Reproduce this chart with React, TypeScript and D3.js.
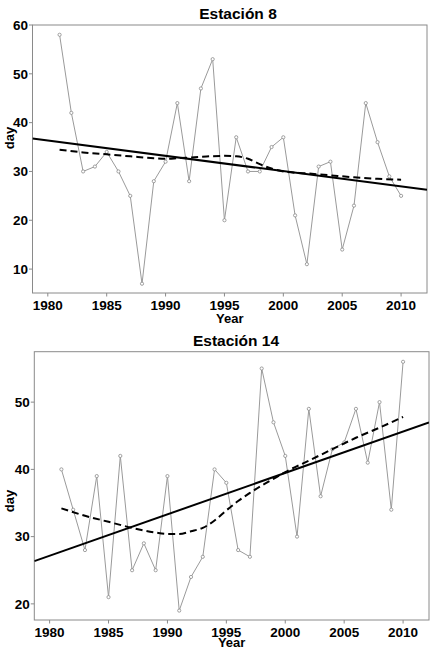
import React from "react";
import * as d3 from "d3";

const years: number[] = d3.range(1981, 2011);

const station8Days: number[] = [
  58, 42, 30, 31, 34, 30, 25, 7, 28, 32, 44, 28, 47, 53, 20,
  37, 30, 30, 35, 37, 21, 11, 31, 32, 14, 23, 44, 36, 29, 25,
];

const station14Days: number[] = [
  40, 34, 28, 39, 21, 42, 25, 29, 25, 39, 19, 24, 27, 40, 38,
  28, 27, 55, 47, 42, 30, 49, 36, 43, 44, 49, 41, 50, 34, 56,
];

const smooth8Years: number[] = [1981, 1983, 1985, 1987, 1989, 1990, 1991, 1993, 1995, 1996, 1997, 1998, 1999, 2000, 2002, 2004, 2006, 2008, 2010];
const smooth8Values: number[] = [34.45, 33.9, 33.5, 33.1, 32.7, 32.6, 32.7, 33.0, 33.2, 33.1, 32.6, 31.5, 30.6, 30.0, 29.6, 29.2, 28.8, 28.5, 28.3];

const smooth14Years: number[] = [1981, 1983, 1985, 1987, 1989, 1990, 1991, 1992, 1993, 1994, 1995, 1996, 1997, 1998, 1999, 2000, 2002, 2004, 2006, 2008, 2010];
const smooth14Values: number[] = [34.2, 33.1, 32.2, 31.3, 30.6, 30.4, 30.4, 30.8, 31.3, 32.4, 33.9, 35.3, 36.5, 37.6, 38.6, 39.6, 41.3, 43.0, 44.7, 46.2, 47.8];

const xTicks: number[] = [1980, 1985, 1990, 1995, 2000, 2005, 2010];
const yTicks8: number[] = [10, 20, 30, 40, 50, 60];
const yTicks14: number[] = [20, 30, 40, 50];

const titles: string[] = ["Estación 8", "Estación 14"];
const xLabel = "Year";
const yLabel = "day";

const FONT = "'Liberation Sans', Arial, sans-serif";

function ols(xs: number[], ys: number[]) {
  const mx = d3.mean(xs)!;
  const my = d3.mean(ys)!;
  let sxy = 0, sxx = 0;
  xs.forEach((x, i) => { sxy += (x - mx) * (ys[i] - my); sxx += (x - mx) * (x - mx); });
  const b = sxy / sxx;
  return (x: number) => my + b * (x - mx);
}

type PanelProps = {
  title: string;
  values: number[];
  sYears: number[];
  sValues: number[];
  yTicks: number[];
  yDomain: [number, number];
  left: number; right: number; top: number; bottom: number;
  titleX: number; titleY: number;
  dayY: number;
  yearDy: number;
  id: string;
};

function Panel(p: PanelProps) {
  const x = d3.scaleLinear().domain([1978.7, 2012.2]).range([p.left, p.right]);
  const y = d3.scaleLinear().domain(p.yDomain).range([p.bottom, p.top]);
  const line = d3.line<number>().x((_, i) => x(years[i])).y((v) => y(v));
  const smooth = d3.line<number>().x((_, i) => x(p.sYears[i])).y((v) => y(v)).curve(d3.curveMonotoneX);
  const fit = ols(years, p.values);
  const [x0, x1] = x.domain();
  const axisColor = "#8a8a8a";
  return (
    <g>
      <defs>
        <clipPath id={p.id}>
          <rect x={p.left} y={p.top} width={p.right - p.left} height={p.bottom - p.top} />
        </clipPath>
      </defs>
      <text x={p.titleX} y={p.titleY} textAnchor="middle" fontFamily={FONT} fontWeight="bold" fontSize={15.5} fill="#000">{p.title}</text>
      <rect x={p.left} y={p.top} width={p.right - p.left} height={p.bottom - p.top} fill="none" stroke={axisColor} strokeWidth={1} />
      {xTicks.map((t) => (
        <g key={"x" + t}>
          <line x1={x(t)} x2={x(t)} y1={p.bottom} y2={p.bottom + 3.5} stroke={axisColor} />
          <text x={x(t)} y={p.bottom + 16.5} textAnchor="middle" fontFamily={FONT} fontWeight="bold" fontSize={13.5} fill="#000">{t}</text>
        </g>
      ))}
      {p.yTicks.map((t) => (
        <g key={"y" + t}>
          <line x1={p.left - 3.5} x2={p.left} y1={y(t)} y2={y(t)} stroke={axisColor} />
          <text x={p.left - 4.5} y={y(t)} dy="0.36em" textAnchor="end" fontFamily={FONT} fontWeight="bold" fontSize={13.5} fill="#000">{t}</text>
        </g>
      ))}
      <text x={(p.left + p.right) / 2} y={p.bottom + p.yearDy} textAnchor="middle" fontFamily={FONT} fontWeight="bold" fontSize={13} fill="#000">{xLabel}</text>
      <text transform={`translate(13.5,${p.dayY}) rotate(-90)`} textAnchor="middle" fontFamily={FONT} fontWeight="bold" fontSize={13} fill="#000">{yLabel}</text>
      <g clipPath={`url(#${p.id})`}>
        <path d={line(p.values) || ""} fill="none" stroke="#9a9a9a" strokeWidth={1} />
        {p.values.map((v, i) => (
          <circle key={i} cx={x(years[i])} cy={y(v)} r={1.6} fill="#fff" stroke="#8a8a8a" strokeWidth={0.8} />
        ))}
        <line x1={x(x0)} x2={x(x1)} y1={y(fit(x0))} y2={y(fit(x1))} stroke="#000" strokeWidth={2} />
        <path d={smooth(p.sValues) || ""} fill="none" stroke="#000" strokeWidth={2} strokeDasharray="7,4" />
      </g>
    </g>
  );
}

export default function App() {
  return (
    <svg width={433} height={650} style={{ position: "absolute", left: 0, top: 0, background: "#fff" }}>
      <rect width={433} height={650} fill="#fff" />
      <Panel
        id="c8" title={titles[0]} values={station8Days} sYears={smooth8Years} sValues={smooth8Values}
        yTicks={yTicks8} yDomain={[5.1, 60]} left={32.5} right={427} top={25} bottom={293}
        titleX={238} titleY={18.5} dayY={138} yearDy={30}
      />
      <Panel
        id="c14" title={titles[1]} values={station14Days} sYears={smooth14Years} sValues={smooth14Values}
        yTicks={yTicks14} yDomain={[17.6, 57.5]} left={34.3} right={429} top={351.7} bottom={620}
        titleX={236} titleY={345.5} dayY={501} yearDy={27.3}
      />
    </svg>
  );
}
